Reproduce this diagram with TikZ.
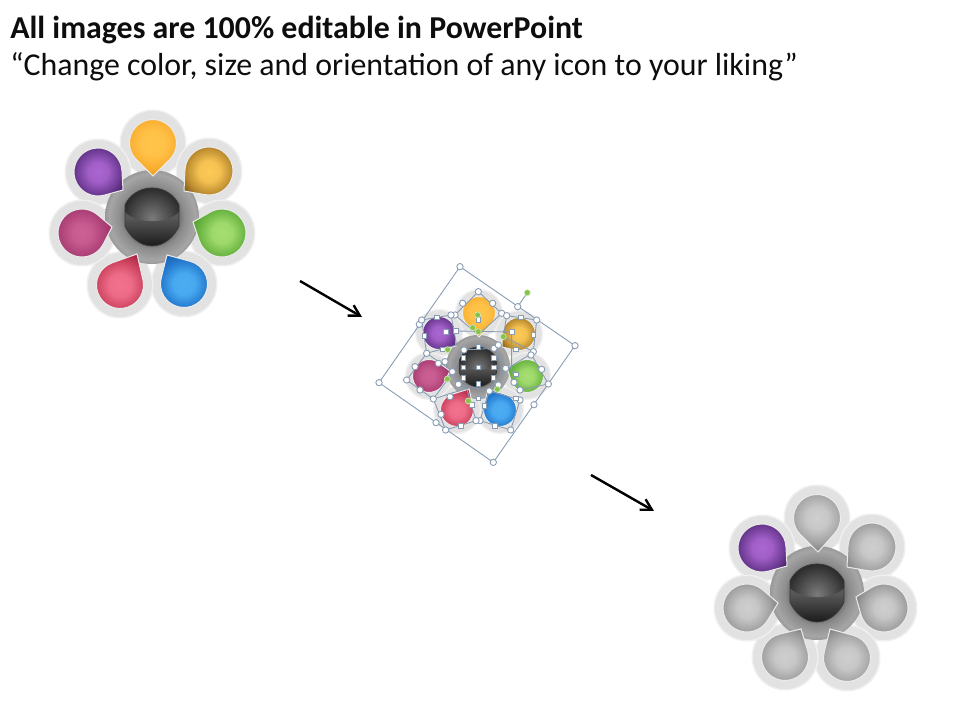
\documentclass[tikz,border=0pt]{standalone}
\usepackage{fontspec}
\setmainfont{Carlito}
\usetikzlibrary{arrows.meta}
\pgfdeclareradialshading{pyellow}{\pgfpointorigin}{rgb(0bp)=(1,.77,.30); rgb(9bp)=(1,.76,.28); rgb(17.5bp)=(.98,.69,.20); rgb(25bp)=(.92,.62,.12); rgb(50bp)=(.92,.62,.12)}
\pgfdeclareradialshading{porange}{\pgfpointorigin}{rgb(0bp)=(.99,.79,.35); rgb(8bp)=(.96,.76,.32); rgb(17.5bp)=(.74,.55,.19); rgb(25bp)=(.46,.32,.08); rgb(50bp)=(.46,.32,.08)}
\pgfdeclareradialshading{pgreen}{\pgfpointorigin}{rgb(0bp)=(.65,.87,.45); rgb(8bp)=(.62,.85,.42); rgb(17.5bp)=(.43,.72,.27); rgb(25bp)=(.32,.62,.18); rgb(50bp)=(.32,.62,.18)}
\pgfdeclareradialshading{pblue}{\pgfpointorigin}{rgb(0bp)=(.30,.68,.95); rgb(8bp)=(.28,.66,.94); rgb(17.5bp)=(.14,.47,.80); rgb(25bp)=(.10,.38,.70); rgb(50bp)=(.10,.38,.70)}
\pgfdeclareradialshading{pred}{\pgfpointorigin}{rgb(0bp)=(.95,.45,.56); rgb(8bp)=(.93,.42,.53); rgb(17.5bp)=(.79,.25,.36); rgb(25bp)=(.62,.11,.22); rgb(50bp)=(.62,.11,.22)}
\pgfdeclareradialshading{pmagenta}{\pgfpointorigin}{rgb(0bp)=(.80,.38,.58); rgb(8bp)=(.78,.35,.56); rgb(17.5bp)=(.68,.26,.47); rgb(25bp)=(.62,.18,.42); rgb(50bp)=(.62,.18,.42)}
\pgfdeclareradialshading{ppurple}{\pgfpointorigin}{rgb(0bp)=(.67,.40,.82); rgb(8bp)=(.63,.37,.78); rgb(17.5bp)=(.43,.23,.58); rgb(25bp)=(.25,.11,.37); rgb(50bp)=(.25,.11,.37)}
\pgfdeclareradialshading{pgray}{\pgfpointorigin}{rgb(0bp)=(.81,.81,.81); rgb(8bp)=(.78,.78,.78); rgb(17.5bp)=(.64,.64,.64); rgb(25bp)=(.50,.50,.50); rgb(50bp)=(.50,.50,.50)}
\pgfdeclareradialshading{hubring}{\pgfpointorigin}{rgb(0bp)=(.30,.30,.30); rgb(13bp)=(.40,.40,.40); rgb(17bp)=(.55,.55,.55); rgb(23bp)=(.65,.65,.65); rgb(25bp)=(.60,.60,.60); rgb(50bp)=(.60,.60,.60)}
\definecolor{halofill}{RGB}{226,226,226}
\definecolor{haloedge}{RGB}{240,240,240}
\definecolor{handleline}{RGB}{135,155,178}
\definecolor{handlegreen}{RGB}{135,195,75}
\tikzset{
  titletext/.style={anchor=base west,inner sep=0pt,font=\fontsize{23.9pt}{27pt}\selectfont\bfseries,text=black!95},
  subtext/.style={anchor=base west,inner sep=0pt,font=\fontsize{23.9pt}{27pt}\selectfont,text=black!95},
  moveline/.style={line width=1.8pt,-{Straight Barb[length=8pt,width=9pt,line width=1.8pt]}},
  selbox/.style={draw=handleline,line width=.65pt},
  handle/.style={fill=white,draw=handleline,line width=.65pt},
  greenhandle/.style={fill=handlegreen,draw=white!60!handlegreen,line width=.5pt},
}
% centre x, centre y, tip x, tip y, radius, halo radius
\newcommand{\petalhalo}[6]{%
  \pgfmathsetmacro\angT{atan2(#2-#4,#3-#1)}%
  \pgfmathsetmacro\distT{veclen(#3-#1,#2-#4)+#6-#5}%
  \pgfmathsetmacro\halfT{acos(#6/\distT)}%
  \begin{scope}[shift={(#1,720-#2)}]
    \fill[haloedge] (0,0) circle ({#6+1});
    \filldraw[fill=halofill,draw=haloedge,line width=.6pt]
      ({\angT+\halfT}:#6) arc[start angle={\angT+\halfT},end angle={\angT+360-\halfT},radius=#6] -- (\angT:\distT) -- cycle;
  \end{scope}}
% centre x, centre y, tip x, tip y, radius, shading
\newcommand{\petalbody}[6]{%
  \pgfmathsetmacro\angT{atan2(#2-#4,#3-#1)}%
  \pgfmathsetmacro\distT{veclen(#3-#1,#2-#4)}%
  \pgfmathsetmacro\halfT{acos(#5/\distT)}%
  \begin{scope}[shift={(#1,720-#2)}]
    \begin{scope}
      \clip ({\angT+\halfT}:#5) arc[start angle={\angT+\halfT},end angle={\angT+360-\halfT},radius=#5] -- (\angT:\distT) -- cycle;
      \shade[shading=#6] (0,0) circle ({\distT+.5});
    \end{scope}
    \draw[white!92!black,line width=.75pt,line join=miter]
      ({\angT+\halfT}:#5) arc[start angle={\angT+\halfT},end angle={\angT+360-\halfT},radius=#5] -- (\angT:\distT) -- cycle;
  \end{scope}}
% the dark cap outline, in units of the scope
\newcommand{\capoutline}{(-27,12) .. controls (-23,21) and (-13,29) .. (0,29) .. controls (13,29) and (23,21) .. (27,12)
      -- (27,-9) .. controls (22,-20) and (12,-29) .. (0,-29)
      .. controls (-12,-29) and (-22,-20) .. (-27,-9) -- cycle}
% centre x, centre y, scale
\newcommand{\hubdisc}[3]{%
  \begin{scope}[shift={(#1,720-#2)},scale=#3]
    \shade[shading=hubring] (0,0) circle (47);
    \begin{scope}
      \clip \capoutline;
      \shade[top color=black!66,bottom color=black!90] (-29,-1) rectangle (29,-30);
      \fill[black!66] (-29,-1) rectangle (29,30);
      \clip (-29,30) -- (29,30) -- (29,7) .. controls (16,-8) and (-16,-8) .. (-29,7) -- cycle;
      \shade[inner color=black!52,outer color=black!84] (0,-1) circle (31);
    \end{scope}
    \draw[black!78,line width=.6pt] \capoutline;
  \end{scope}}
\begin{document}
\begin{tikzpicture}[x=.75pt,y=.75pt]
\useasboundingbox (0,0) rectangle (960,720);
\fill[white] (0,0) rectangle (960,720);

\node[titletext] (title) at (10,681.5) {All images are 100\% editable in PowerPoint};
\node[subtext] (subtitle) at (10,644) {“Change color, size and orientation of any icon to your liking”};

% ---------- flower 1
\petalhalo{153}{143}{153}{176}{23.5}{32.5}
\petalhalo{98}{172}{123}{190}{24}{32.5}
\petalhalo{209}{171}{184}{191}{24}{32.5}
\petalhalo{222}{233}{193}{222}{24}{32.5}
\petalhalo{184}{284}{167}{255}{23.5}{32.5}
\petalhalo{120}{285}{137}{254}{23.5}{32.5}
\petalhalo{82}{233}{112}{227}{24}{32.5}
\hubdisc{152}{217}{1}
\petalbody{153}{143}{153}{176}{23.5}{pyellow}
\petalbody{98}{172}{123}{190}{24}{ppurple}
\petalbody{209}{171}{184}{191}{24}{porange}
\petalbody{222}{233}{193}{222}{24}{pgreen}
\petalbody{184}{284}{167}{255}{23.5}{pblue}
\petalbody{120}{285}{137}{254}{23.5}{pred}
\petalbody{82}{233}{112}{227}{24}{pmagenta}

% ---------- arrows
\coordinate (arrowAs) at (300,439);
\coordinate (arrowAe) at (362,403);
\coordinate (arrowBs) at (591,245);
\coordinate (arrowBe) at (654,209);
\draw[moveline] (arrowAs) -- (arrowAe);
\draw[moveline] (arrowBs) -- (arrowBe);

% ---------- flower 2
\petalhalo{479}{313}{479}{337}{16.5}{23}
\petalhalo{439}{333}{456}{346}{16.5}{23}
\petalhalo{519}{334}{502}{347}{16.5}{23}
\petalhalo{527}{376}{507}{368}{16.5}{23}
\petalhalo{500}{410}{488}{389}{16.5}{23}
\petalhalo{457}{410}{469}{389}{16.5}{23}
\petalhalo{429}{376}{450}{371}{16.5}{23}
\hubdisc{478}{367}{.68}
\petalbody{479}{313}{479}{337}{16.5}{pyellow}
\petalbody{439}{333}{456}{346}{16.5}{ppurple}
\petalbody{519}{334}{502}{347}{16.5}{porange}
\petalbody{527}{376}{507}{368}{16.5}{pgreen}
\petalbody{500}{410}{488}{389}{16.5}{pblue}
\petalbody{457}{410}{469}{389}{16.5}{pred}
\petalbody{429}{376}{450}{371}{16.5}{pmagenta}

% selection handles, in 3x crop coordinates
\begin{scope}[shift={(370,465)},x=.25pt,y=-.25pt]
  \draw[selbox] (270,35) -- (615,272) -- (370,622) -- (27,383) -- cycle;
  \draw[selbox] (443,155) -- (472,113);
  \draw[selbox] (325,110) -- (395,175) -- (325,240) -- (255,180) -- cycle;
  \draw[selbox] (410,182) -- (500,195) -- (490,290) -- (400,245) -- cycle;
  \draw[selbox] (483,297) -- (535,387) -- (450,405) -- (420,335) -- cycle;
  \draw[selbox] (358,408) -- (450,435) -- (422,525) -- (330,497) -- cycle;
  \draw[selbox] (290,400) -- (318,497) -- (227,525) -- (190,432) -- cycle;
  \draw[selbox] (170,295) -- (250,350) -- (190,432) -- (110,375) -- cycle;
  \draw[selbox] (155,195) -- (243,180) -- (260,270) -- (170,295) -- cycle;
  \draw[selbox] (258,228) -- (425,231) -- (425,340);
  \draw[selbox] (280,285) -- (372,280) -- (407,340) -- (358,408) -- (265,388) -- (247,350) -- cycle;
  \foreach \hx/\hy in {270/35,615/272,370/622,27/383,443/155,148/208,325/110,278/145,368/145,
     255/180,243/180,395/175,410/182,500/195,490/290,483/300,535/387,450/435,422/525,330/497,
     318/497,227/525,190/432,150/405,110/375,135/335,170/295,155/195,247/350,225/320,
     205/325,240/425,265/388,282/285,372/280,385/270,407/340,385/390,358/408,432/382,
     450/405,492/449,198/503,515/343,213/478}
    \filldraw[handle] (\hx,\hy) circle (9.5);
  \foreach \hx/\hy in {325/275,280/308,372/308,325/337,280/337,372/337,325/387,280/368,370/368,
     258/228,227/231,425/231,452/187,490/240,437/283,437/358,437/430,375/513,272/512,200/187,
     163/243,218/283,343/452,305/450,325/430,325/195}
    \filldraw[handle] (\hx-7,\hy-7) rectangle (\hx+7,\hy+7);
  \foreach \hx/\hy in {472/113,323/180,308/218,325/230,400/245,233/284,232/372,295/438,382/403}
    \filldraw[greenhandle] (\hx,\hy) circle (9);
\end{scope}

% ---------- flower 3
\petalhalo{817}{518}{818}{552}{23.5}{32.5}
\petalhalo{762}{548}{787}{566}{24}{32.5}
\petalhalo{872}{547}{847}{567}{24}{32.5}
\petalhalo{884}{608}{856}{597}{24}{32.5}
\petalhalo{847}{658}{830}{629}{23.5}{32.5}
\petalhalo{785}{657}{801}{629}{23.5}{32.5}
\petalhalo{747}{608}{778}{603}{24}{32.5}
\hubdisc{817}{593}{1}
\petalbody{817}{518}{818}{552}{23.5}{pgray}
\petalbody{762}{548}{787}{566}{24}{ppurple}
\petalbody{872}{547}{847}{567}{24}{pgray}
\petalbody{884}{608}{856}{597}{24}{pgray}
\petalbody{847}{658}{830}{629}{23.5}{pgray}
\petalbody{785}{657}{801}{629}{23.5}{pgray}
\petalbody{747}{608}{778}{603}{24}{pgray}
\end{tikzpicture}
\end{document}
